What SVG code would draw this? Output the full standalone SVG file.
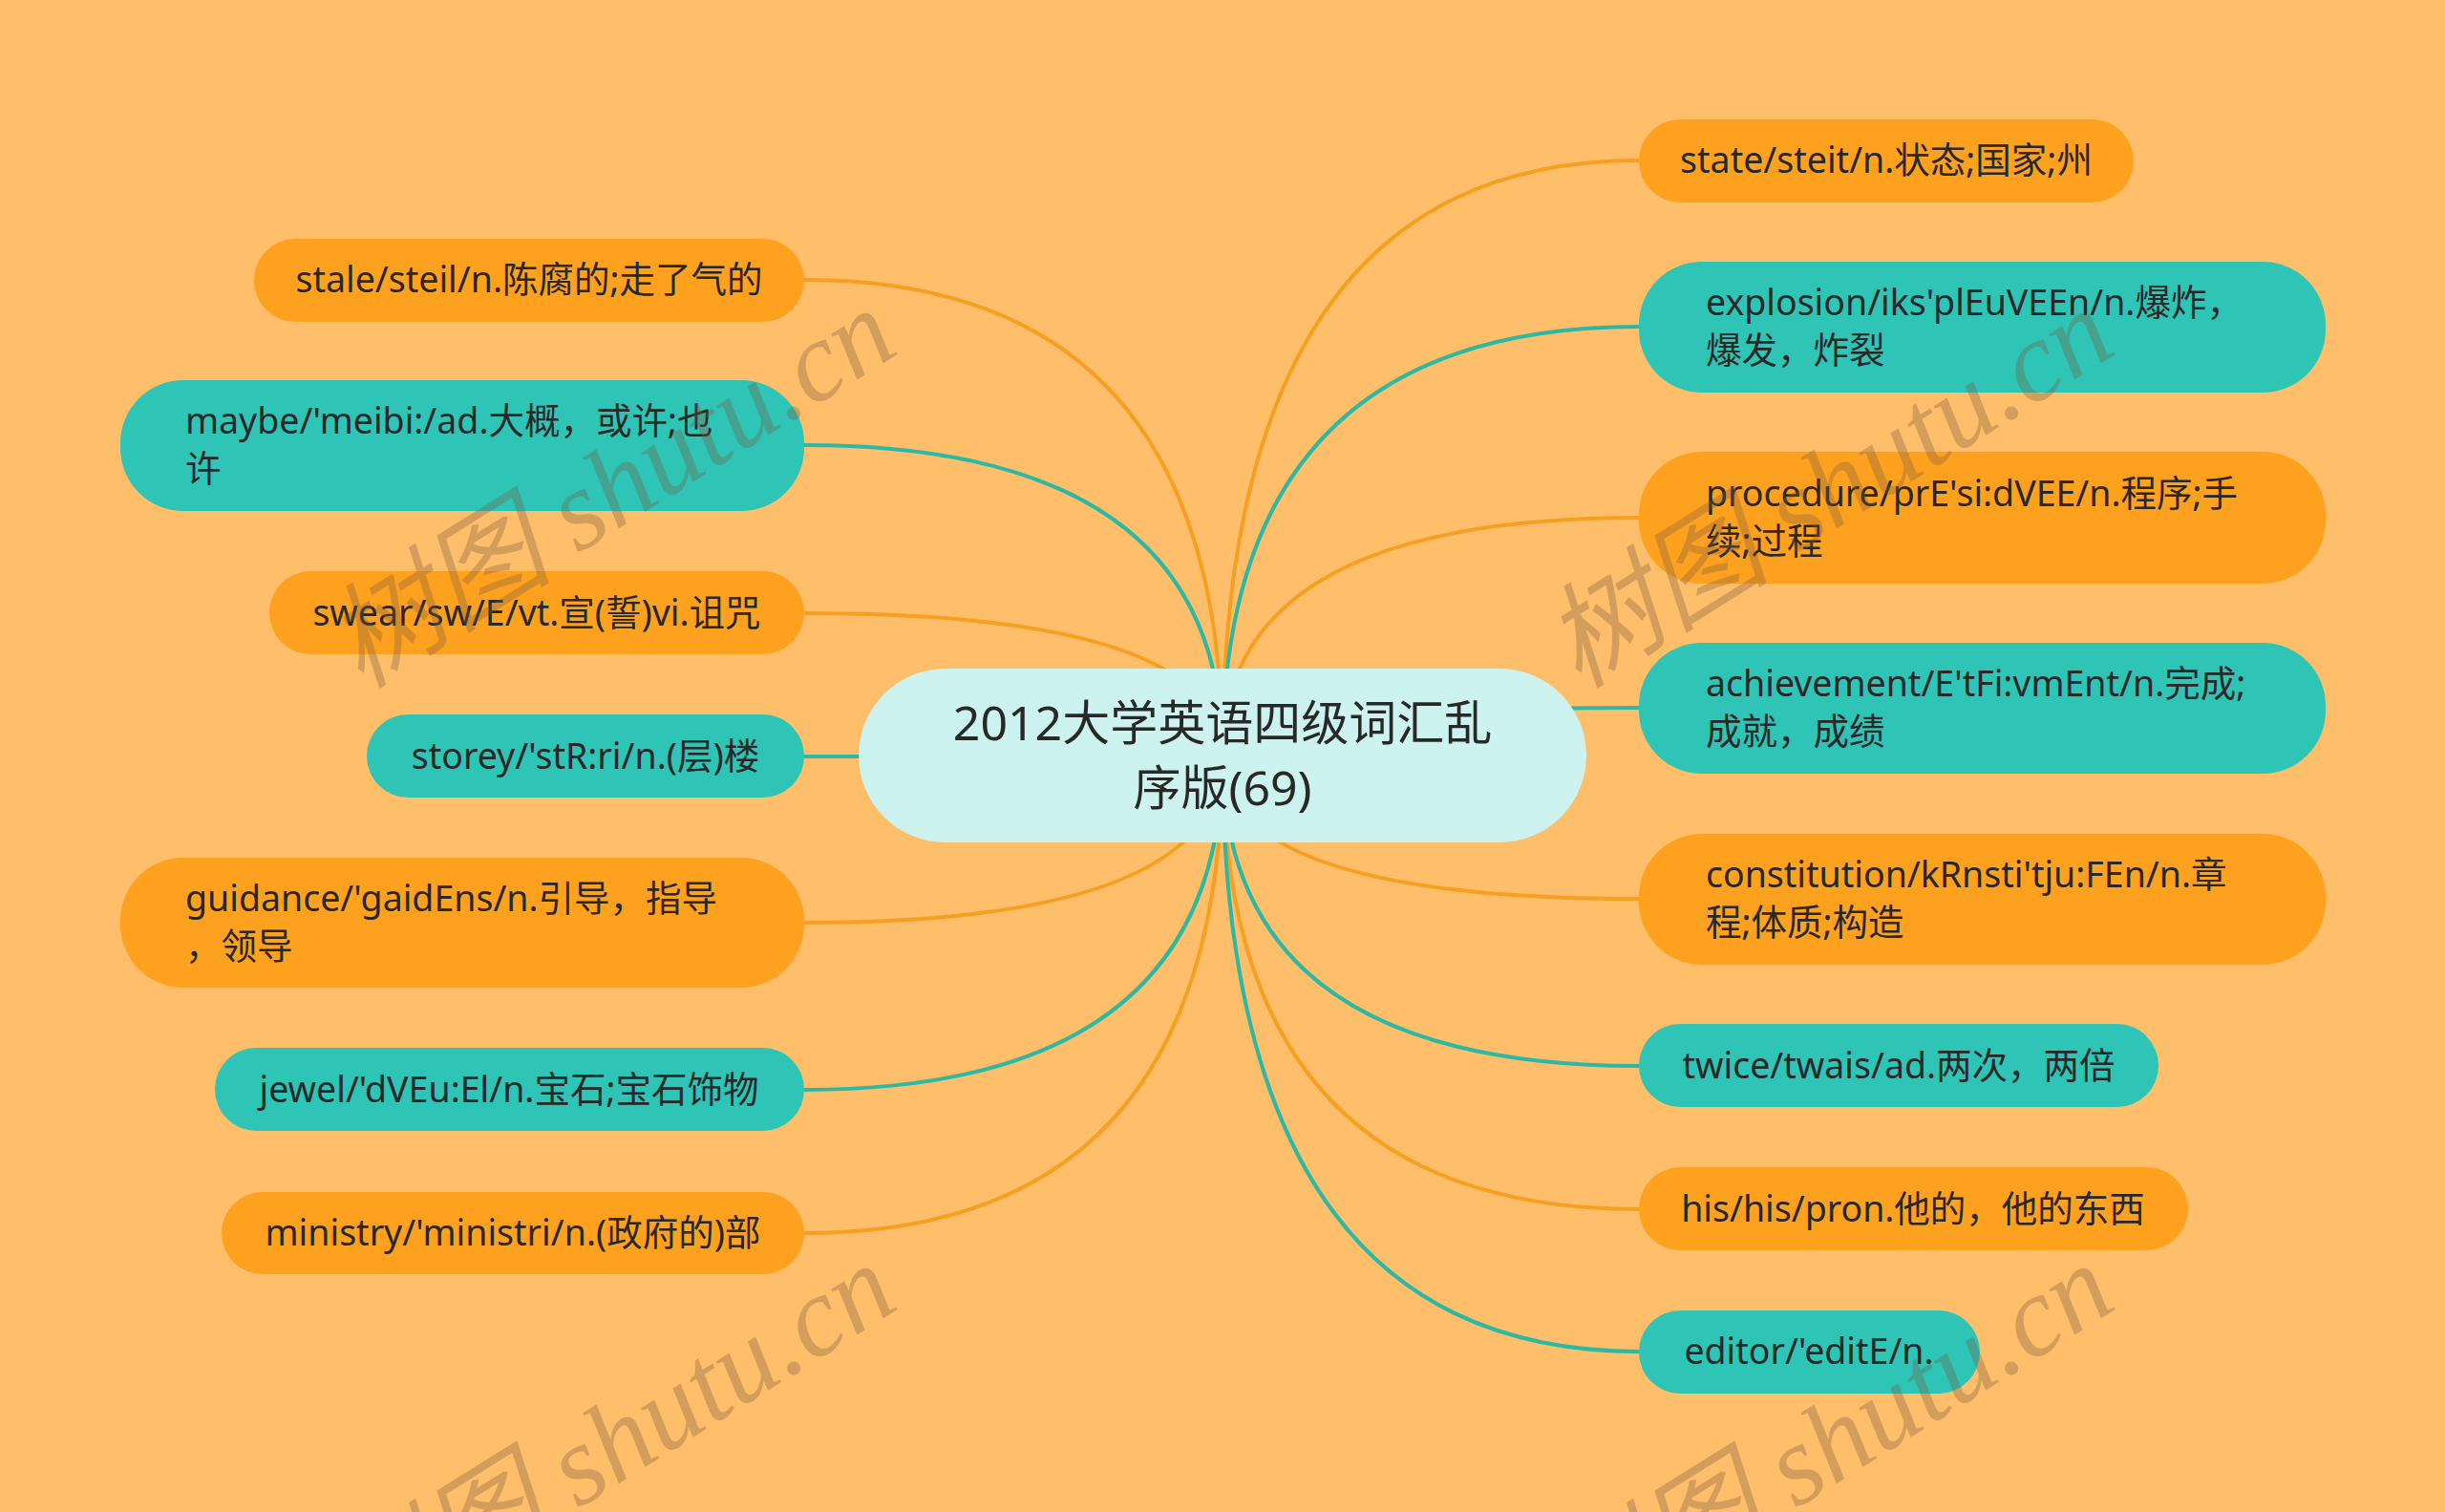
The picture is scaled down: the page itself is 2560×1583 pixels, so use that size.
<svg xmlns="http://www.w3.org/2000/svg" width="2560" height="1583" viewBox="0 0 2560 1583">
<style>
.bg{fill:#FEBE6A}
.o{fill:#FEA11F}
.t{fill:#2EC4B6}
.c{fill:#CCF3EF}
text{fill:#282828;font-family:"Noto Sans","Noto Sans CJK SC",sans-serif;font-size:37.5px}
.mid{text-anchor:middle}
.title{font-size:50px}
.lo{fill:none;stroke:#F6A022;stroke-width:4}
.lt{fill:none;stroke:#2BB9A6;stroke-width:4}
.wm{fill:#785A3C;fill-opacity:0.32;font-family:"Liberation Serif","Noto Sans CJK SC",serif;font-style:italic;font-size:119px}
</style>
<rect class="bg" x="0" y="0" width="2560" height="1583"/>
<g id="connectors">
<path class="lo" d="M1280 791 Q1280 293 842 293"/>
<path class="lt" d="M1280 791 Q1280 466 842 466"/>
<path class="lo" d="M1280 791 Q1280 642 842 642"/>
<path class="lt" d="M1280 791 Q1280 792 842 792"/>
<path class="lo" d="M1280 791 Q1280 966 842 966"/>
<path class="lt" d="M1280 791 Q1280 1141 842 1141"/>
<path class="lo" d="M1280 791 Q1280 1291 842 1291"/>
<path class="lo" d="M1280 791 Q1280 168 1716 168"/>
<path class="lt" d="M1280 791 Q1280 342 1716 342"/>
<path class="lo" d="M1280 791 Q1280 542 1716 542"/>
<path class="lt" d="M1280 791 Q1280 741 1716 741"/>
<path class="lo" d="M1280 791 Q1280 941 1716 941"/>
<path class="lt" d="M1280 791 Q1280 1116 1716 1116"/>
<path class="lo" d="M1280 791 Q1280 1266 1716 1266"/>
<path class="lt" d="M1280 791 Q1280 1415 1716 1415"/>
</g>
<g id="root">
<rect class="c" x="899" y="700" width="762" height="182" rx="91"/>
<text class="title mid" x="1280" y="775">2012大学英语四级词汇乱</text>
<text class="title mid" x="1280" y="843">序版(69)</text>
</g>
<g id="n-stale">
<rect class="o" x="266" y="250" width="576" height="87" rx="43.5"/>
<text class="mid" x="554" y="306">stale/steil/n.陈腐的;走了气的</text>
</g>
<g id="n-maybe">
<rect class="t" x="126" y="398" width="716" height="137" rx="66"/>
<text x="194" y="454">maybe/'meibi:/ad.大概，或许;也</text>
<text x="194" y="504">许</text>
</g>
<g id="n-swear">
<rect class="o" x="282" y="598" width="560" height="87" rx="43.5"/>
<text class="mid" x="562" y="655">swear/sw/E/vt.宣(誓)vi.诅咒</text>
</g>
<g id="n-storey">
<rect class="t" x="384" y="748" width="458" height="87" rx="43.5"/>
<text class="mid" x="613" y="805">storey/'stR:ri/n.(层)楼</text>
</g>
<g id="n-guidance">
<rect class="o" x="126" y="898" width="716" height="136" rx="66"/>
<text x="194" y="954">guidance/'gaidEns/n.引导，指导</text>
<text x="194" y="1004">，领导</text>
</g>
<g id="n-jewel">
<rect class="t" x="225" y="1097" width="617" height="87" rx="43.5"/>
<text class="mid" x="533" y="1154">jewel/'dVEu:El/n.宝石;宝石饰物</text>
</g>
<g id="n-ministry">
<rect class="o" x="232" y="1248" width="610" height="86" rx="43"/>
<text class="mid" x="537" y="1304">ministry/'ministri/n.(政府的)部</text>
</g>
<g id="n-state">
<rect class="o" x="1716" y="125" width="518" height="87" rx="43.5"/>
<text class="mid" x="1975" y="181">state/steit/n.状态;国家;州</text>
</g>
<g id="n-explosion">
<rect class="t" x="1716" y="274" width="719" height="137" rx="66"/>
<text x="1786" y="330">explosion/iks'plEuVEEn/n.爆炸，</text>
<text x="1786" y="380">爆发，炸裂</text>
</g>
<g id="n-procedure">
<rect class="o" x="1716" y="473" width="719" height="138" rx="66"/>
<text x="1786" y="530">procedure/prE'si:dVEE/n.程序;手</text>
<text x="1786" y="580">续;过程</text>
</g>
<g id="n-achievement">
<rect class="t" x="1716" y="673" width="719" height="137" rx="66"/>
<text x="1786" y="729">achievement/E'tFi:vmEnt/n.完成;</text>
<text x="1786" y="779">成就，成绩</text>
</g>
<g id="n-constitution">
<rect class="o" x="1716" y="873" width="719" height="137" rx="66"/>
<text x="1786" y="929">constitution/kRnsti'tju:FEn/n.章</text>
<text x="1786" y="979">程;体质;构造</text>
</g>
<g id="n-twice">
<rect class="t" x="1716" y="1072" width="544" height="87" rx="43.5"/>
<text class="mid" x="1988" y="1129">twice/twais/ad.两次，两倍</text>
</g>
<g id="n-his">
<rect class="o" x="1716" y="1222" width="575" height="87" rx="43.5"/>
<text class="mid" x="2003" y="1279">his/his/pron.他的，他的东西</text>
</g>
<g id="n-editor">
<rect class="t" x="1716" y="1372" width="357" height="87" rx="43.5"/>
<text class="mid" x="1894" y="1428">editor/'editE/n.</text>
</g>
<g id="watermarks">
<text class="wm" transform="translate(378 722) rotate(-32)">树图 shutu.cn</text>
<text class="wm" transform="translate(1653 722) rotate(-32)">树图 shutu.cn</text>
<text class="wm" transform="translate(378 1722) rotate(-32)">树图 shutu.cn</text>
<text class="wm" transform="translate(1653 1722) rotate(-32)">树图 shutu.cn</text>
</g>
</svg>
